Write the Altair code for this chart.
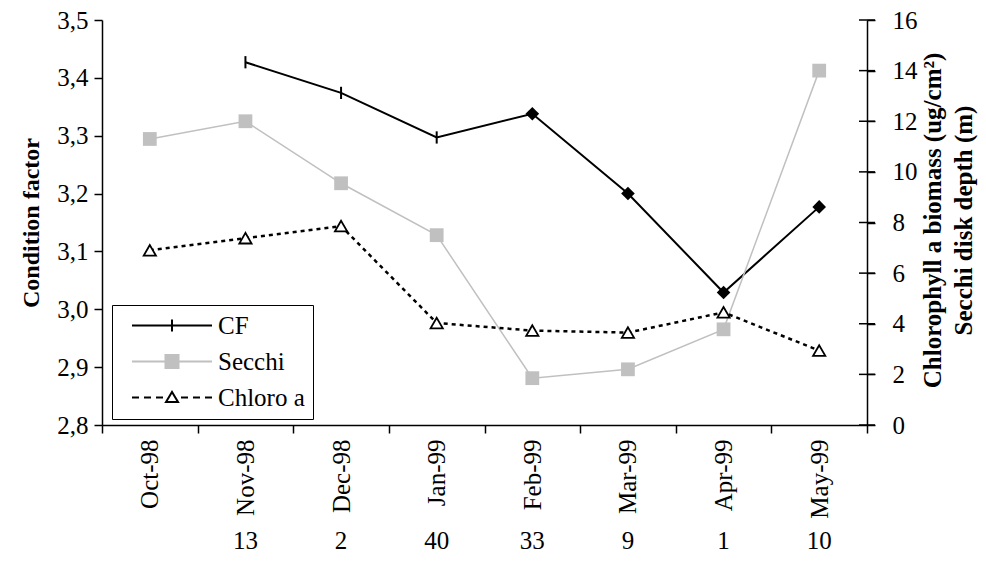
import altair as alt
import pandas as pd

FONT = "Liberation Serif"

months = ["Oct-98", "Nov-98", "Dec-98", "Jan-99", "Feb-99", "Mar-99", "Apr-99", "May-99"]
cf = [None, 3.427, 3.374, 3.297, 3.338, 3.200, 3.029, 3.177]
cf_marker = ["", "tick", "tick", "tick", "diamond", "diamond", "diamond", "diamond"]
secchi = [11.3, 12.0, 9.55, 7.5, 1.85, 2.2, 3.78, 14.0]
chloro = [6.9, 7.38, 7.86, 4.03, 3.73, 3.65, 4.45, 2.94]
counts = ["", "13", "2", "40", "33", "9", "1", "10"]
left_ticks = [2.8, 2.9, 3.0, 3.1, 3.2, 3.3, 3.4, 3.5]
right_ticks = [0, 2, 4, 6, 8, 10, 12, 14, 16]
series = ["CF", "Secchi", "Chloro a"]

df = pd.DataFrame({"month": months, "cf": cf, "marker": cf_marker,
                   "secchi": secchi, "chloro": chloro, "n": counts})
ticks_df = pd.DataFrame({"t": right_ticks})
legend_df = pd.DataFrame({"series": series})

W, H = 765, 405
LFS = 25   # tick label font size
TFS = 24   # axis title font size

x_enc = alt.X(
    "month:N", sort=months, bandPosition=0.5,
    scale=alt.Scale(type="band", domain=months, paddingInner=0, paddingOuter=0),
    axis=alt.Axis(title=None, labelAngle=270, labelAlign="right", labelBaseline="middle",
                  labelFont=FONT, labelFontSize=LFS, labelColor="black", labelPadding=6,
                  tickBand="extent", tickSize=8, tickColor="black", tickWidth=1.5,
                  domainColor="black", domainWidth=1.5, grid=False),
)

left_scale = alt.Scale(domain=[2.8, 3.5], nice=False, zero=False)
left_axis = alt.Axis(values=left_ticks, labelExpr="replace(format(datum.value, '.1f'), '.', ',')",
                     title="Condition factor", titleFont=FONT, titleFontSize=TFS, titleFontWeight="bold",
                     titleColor="black", titlePadding=13, labelFont=FONT, labelFontSize=LFS,
                     labelColor="black", labelPadding=6, tickSize=8, tickColor="black", tickWidth=1.5,
                     domainColor="black", domainWidth=1.5, grid=False)
y_left = alt.Y("cf:Q", scale=left_scale, axis=left_axis)

right_scale = alt.Scale(domain=[0, 16], nice=False, zero=True)
right_axis = alt.Axis(orient="right", values=right_ticks,
                      title=["Chlorophyll a biomass (ug/cm²)", "Secchi disk depth (m)"],
                      titleAngle=270, titleFont=FONT, titleFontSize=25, titleFontWeight="bold",
                      titleColor="black", titleX=73, titleY=200, titleAlign="center",
                      titleBaseline="alphabetic", titleLineHeight=31,
                      labelFont=FONT, labelFontSize=LFS, labelColor="black", labelPadding=17,
                      labelAlign="left",
                      tickSize=8, tickColor="black", tickWidth=1.5,
                      domainColor="black", domainWidth=1.5, grid=False)


def y_right(field):
    return alt.Y(field, scale=right_scale, axis=right_axis, title=None)


base = alt.Chart(df)

cf_line = base.mark_line(color="black", strokeWidth=2).encode(x=x_enc, y=y_left)
cf_tick = base.transform_filter("datum.marker == 'tick'").mark_point(
    shape="M0,-1V1", size=150, stroke="black", strokeWidth=2, filled=False, opacity=1
).encode(x=x_enc, y=y_left)
cf_diamond = base.transform_filter("datum.marker == 'diamond'").mark_point(
    shape="diamond", size=185, color="black", filled=True, opacity=1
).encode(x=x_enc, y=y_left)
count_text = base.mark_text(font=FONT, fontSize=LFS, color="black", baseline="middle").encode(
    x=x_enc, y=alt.value(H + 116), text="n:N"
)
left_layer = alt.layer(cf_line, cf_tick, cf_diamond, count_text)

sec_line = base.mark_line(color="#c0c0c0", strokeWidth=1.5).encode(x=x_enc, y=y_right("secchi:Q"))
sec_pts = base.mark_point(shape="square", size=190, color="#c0c0c0", filled=True, opacity=1).encode(
    x=x_enc, y=y_right("secchi:Q")
)
chl_line = base.mark_line(color="black", strokeWidth=2.5, strokeDash=[4, 4]).encode(
    x=x_enc, y=y_right("chloro:Q")
)
chl_pts = base.mark_point(shape="triangle-up", size=150, fill="white", stroke="black",
                          strokeWidth=1.8, filled=True, opacity=1).encode(
    x=x_enc, y=y_right("chloro:Q")
)
rticks = alt.Chart(ticks_df).mark_tick(orient="horizontal", color="black", thickness=1.5,
                                        size=16, opacity=1).encode(
    y=y_right("t:Q"), x=alt.value(W)
)
right_layer = alt.layer(sec_line, sec_pts, chl_line, chl_pts, rticks)

paths = [
    "M-4,0H4M0,-0.6V0.6",
    "M-4,0H4M-0.65,-0.65H0.65V0.65H-0.65Z",
    "M-4,0H-3.3M-2.8,0H-2.1M-1.6,0H-0.9M0.9,0H1.6M2.1,0H2.8M3.3,0H4M-0.6,0.45L0,-0.55L0.6,0.45Z",
]
leg = alt.Legend(title=None, orient="none", legendX=10, legendY=285, padding=8, rowPadding=10,
                 symbolSize=400, symbolStrokeWidth=2, symbolOffset=39.5, labelOffset=33.5,
                 labelFont=FONT, labelFontSize=LFS, labelColor="black",
                 fillColor="white", strokeColor="black", cornerRadius=0)
legend_layer = alt.Chart(legend_df).transform_filter("false").mark_point(
    opacity=1, filled=False, strokeWidth=2
).encode(
    shape=alt.Shape("series:N", scale=alt.Scale(domain=series, range=paths), legend=leg),
    stroke=alt.Stroke("series:N", scale=alt.Scale(domain=series, range=["black", "#c0c0c0", "black"]), legend=leg),
    fill=alt.Fill("series:N", scale=alt.Scale(domain=series, range=["transparent", "#c0c0c0", "white"]), legend=leg),
)

chart = alt.layer(left_layer, right_layer, legend_layer).resolve_scale(y="independent").properties(
    width=W, height=H,
    autosize=alt.AutoSizeParams(type="none"),
    padding={"left": 94, "top": 12, "right": 111, "bottom": 130},
).configure(font=FONT, background="white").configure_view(strokeWidth=0)

chart.save("out.html", embed_options={"renderer": "svg", "actions": False})
